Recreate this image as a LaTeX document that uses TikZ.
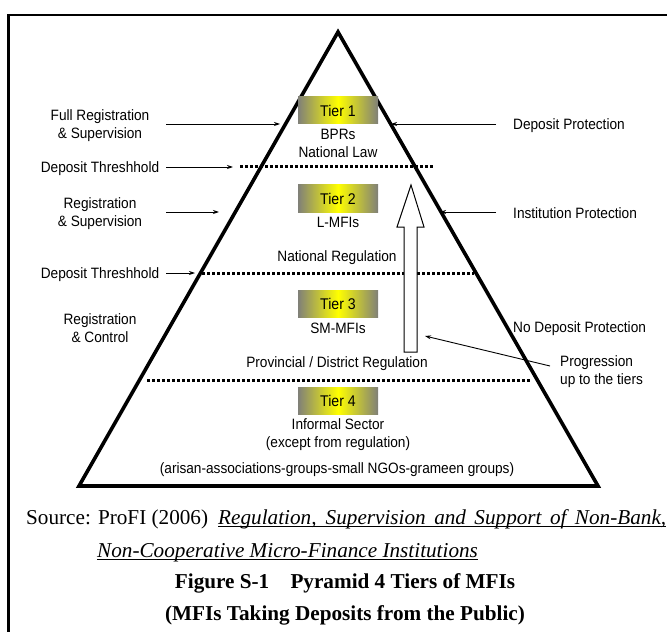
\documentclass[tikz,border=0pt]{standalone}
\usepackage{fontspec}
\setmainfont{Liberation Serif}
\newfontfamily\lsans[FakeStretch=0.91]{Liberation Sans}
\usetikzlibrary{arrows.meta,calc}
\definecolor{tgray}{RGB}{128,128,120}
\begin{document}
\begin{tikzpicture}[x=1bp,y=-1bp,
  lbl/.style={font=\lsans\fontsize{15bp}{18bp}\selectfont, inner sep=0pt, align=center, yshift=-1.6bp},
  tierbox/.style={minimum width=80bp, minimum height=27bp, inner sep=0pt,
     left color=tgray, right color=tgray, middle color=yellow,
     font=\lsans\fontsize{15.5bp}{18bp}\selectfont},
  ptr/.style={line width=0.9bp, -{Stealth[length=6bp,width=4bp]}},
  thresh/.style={line width=3bp, dash pattern=on 2.6bp off 2.4bp},
  pyr/.style={line width=3.6bp, line join=miter, miter limit=20},
  frame/.style={line width=2.5bp},
  capt/.style={font=\fontsize{21.2bp}{25bp}\selectfont, inner sep=0pt},
  uline/.style={line width=1bp},
  hollow/.style={draw=black, fill=white, line width=1bp}
]
\useasboundingbox (0,0) rectangle (667,632);
% frame
\draw[frame] (8.7,632) -- (8.7,15) -- (667,15);
% pyramid
\coordinate (apex) at (338,32);
\coordinate (bl) at (79,486);
\coordinate (br) at (598,486);
\draw[pyr] (apex) -- (bl) -- (br) -- cycle;
% threshold lines
\coordinate (t1a) at (240,167); \coordinate (t1b) at (435,167);
\coordinate (t2a) at (202,273); \coordinate (t2b) at (474,273);
\coordinate (t3a) at (147,380); \coordinate (t3b) at (530,380);
\draw[thresh] (t1a) -- (t1b);
\draw[thresh] (t2a) -- (t2b);
\draw[thresh] (t3a) -- (t3b);
% big hollow arrow
\draw[hollow] (404,352) -- (404,227) -- (397,227) -- (411,185) -- (424,227) -- (417,227) -- (417,352) -- cycle;
% tier boxes
\node[tierbox] (tier1) at (338,110.5) {Tier 1};
\node[tierbox] (tier2) at (338,198.5) {Tier 2};
\node[tierbox] (tier3) at (338,304) {Tier 3};
\node[tierbox] (tier4) at (338,400.5) {Tier 4};
% inner labels
\node[lbl] (bprs) at (338,133) {BPRs};
\node[lbl] (natlaw) at (338,151) {National Law};
\node[lbl] (lmfi) at (338,221) {L-MFIs};
\node[lbl] (natreg) at (337,256) {National Regulation};
\node[lbl] (smmfi) at (338,327) {SM-MFIs};
\node[lbl] (provreg) at (337,362) {Provincial / District Regulation};
\node[lbl] (informal) at (338,423) {Informal Sector};
\node[lbl] (except) at (338,442) {(except from regulation)};
\node[lbl] (arisan) at (337,468) {(arisan-associations-groups-small NGOs-grameen groups)};
% left labels
\node[lbl] (fullreg) at (100,124) {Full Registration\\\& Supervision};
\node[lbl] (dt1) at (100,167) {Deposit Threshhold};
\node[lbl] (regsup) at (100,212.5) {Registration\\\& Supervision};
\node[lbl] (dt2) at (100,273) {Deposit Threshhold};
\node[lbl] (regctl) at (100,327) {Registration\\\& Control};
% right labels
\node[lbl, anchor=west] (depprot) at (513,124) {Deposit Protection};
\node[lbl, anchor=west] (instprot) at (513,212) {Institution Protection};
\node[lbl, anchor=west] (nodep) at (513,327) {No Deposit Protection};
\node[lbl, anchor=west, align=left] (prog) at (560,370.5) {Progression\\up to the tiers};
% pointer arrows
\coordinate (a1s) at (166,124); \coordinate (a1e) at (280,124);
\coordinate (a2s) at (166,167); \coordinate (a2e) at (233,167);
\coordinate (a3s) at (166,212); \coordinate (a3e) at (219,212);
\coordinate (a4s) at (166,273); \coordinate (a4e) at (195,273);
\coordinate (b1s) at (496,124); \coordinate (b1e) at (391,124);
\coordinate (b2s) at (496,212); \coordinate (b2e) at (440,212);
\coordinate (ps) at (550,366); \coordinate (pe) at (425,336);
\draw[ptr] (a1s) -- (a1e);
\draw[ptr] (a2s) -- (a2e);
\draw[ptr] (a3s) -- (a3e);
\draw[ptr] (a4s) -- (a4e);
\draw[ptr] (b1s) -- (b1e);
\draw[ptr] (b2s) -- (b2e);
\draw[ptr] (ps) -- (pe);
% caption
\node[capt, anchor=base west] (src) at (26,524) {Source: ProFI (2006)};
\node[capt, anchor=base west] (ref1) at (218,524) {\makebox[448bp][s]{\itshape Regulation, Supervision and Support of Non-Bank,}};
\node[capt, anchor=base west] (ref2) at (97,557) {\itshape Non-Cooperative Micro-Finance Institutions};
\draw[uline] ($(ref1.base west)+(0,2.8)$) -- ($(ref1.base east)+(0,2.8)$);
\draw[uline] ($(ref2.base west)+(0,2.8)$) -- ($(ref2.base east)+(0,2.8)$);
\node[capt, anchor=base, font=\bfseries\fontsize{21.2bp}{25bp}\selectfont] (fig) at (345,588) {Figure S-1\quad Pyramid 4 Tiers of MFIs};
\node[capt, anchor=base, font=\bfseries\fontsize{21.2bp}{25bp}\selectfont] (sub) at (345,620.5) {(MFIs Taking Deposits from the Public)};
\end{tikzpicture}
\end{document}
